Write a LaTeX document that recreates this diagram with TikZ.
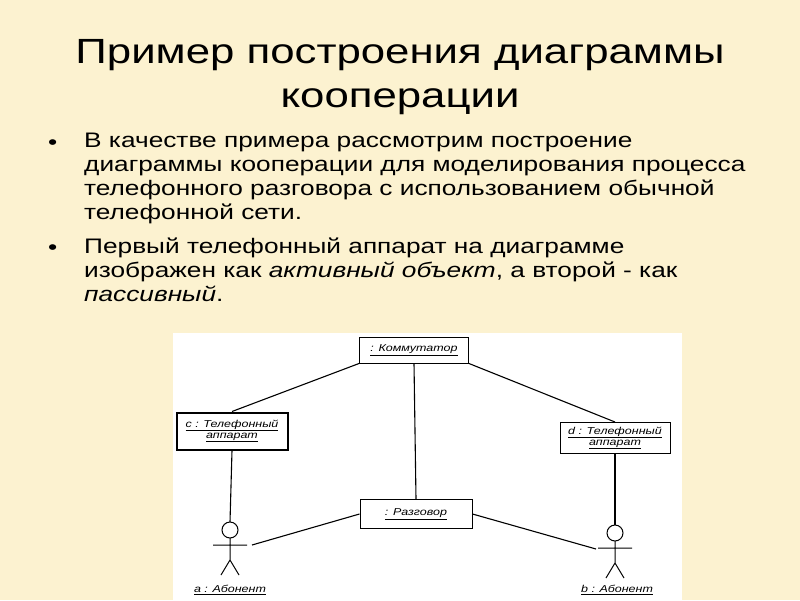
\documentclass[tikz,border=0pt]{standalone}
\usepackage{fontspec}
\setmainfont[FakeStretch=1.25]{Liberation Sans}
\begin{document}
\begin{tikzpicture}[x=1pt,y=-1pt,
 obj/.style={draw,line width=1pt,fill=white,inner sep=2pt,font=\fontsize{10}{11}\selectfont\itshape,align=center},
 lnk/.style={line width=1.1pt},
 body/.style={font=\fontsize{21}{24}\selectfont,anchor=west,inner sep=0pt}]
\fill[fill={rgb,255:red,252;green,242;blue,208}] (0,0) rectangle (800,600);
\useasboundingbox (0,0) rectangle (800,600);
\node[font=\fontsize{35}{44}\selectfont,align=center] (title) at (400,77) {Пример построения диаграммы\\кооперации};
\node[body] (b1) at (48,145) {•};
\node[body,anchor=north west,align=left] (t1) at (84,133) {В качестве примера рассмотрим построение\\диаграммы кооперации для моделирования процесса\\телефонного разговора с использованием обычной\\телефонной сети.};
\node[body] (b2) at (48,250) {•};
\node[body,anchor=north west,align=left] (t2) at (84,238) {Первый телефонный аппарат на диаграмме\\изображен как \textit{активный объект}, а второй - как\\\textit{пассивный}.};
\fill[white] (173,333) rectangle (682,600);
\node[obj,minimum width=109,minimum height=26] (k) at (414,350) {\underline{: Коммутатор}};
\node[obj,line width=2pt,minimum width=111,minimum height=37] (c) at (232,431) {\underline{c : Телефонный}\\\underline{аппарат}};
\node[obj,minimum width=110,minimum height=31] (d) at (615,438) {\underline{d : Телефонный}\\\underline{аппарат}};
\node[obj,minimum width=112,minimum height=29] (r) at (416,514) {\underline{: Разговор}};
% actors
\foreach \n/\x/\y in {a/230/530,b/615/533}{
 \draw[line width=1pt] (\x,\y) circle (8);
 \draw[line width=1pt] (\x-17,\y+15) -- (\x+17,\y+15) (\x,\y+8) -- (\x,\y+30) (\x-9,\y+45) -- (\x,\y+30) -- (\x+9,\y+45);
}
\node[font=\fontsize{10}{11}\selectfont\itshape] (al) at (230,590) {\underline{a : Абонент}};
\node[font=\fontsize{10}{11}\selectfont\itshape] (bl) at (617,590) {\underline{b : Абонент}};
\coordinate (ah) at (230,522);
\coordinate (bh) at (615,525);
\coordinate (aa) at (252,545);
\coordinate (ba) at (596,549);
\draw[lnk] (k.south west) -- (c.north);
\draw[lnk] (k.south east) -- (d.north);
\draw[lnk] (k.south) -- (r.north);
\draw[lnk] (c.south) -- (ah);
\draw[lnk] (d.south) -- (bh);
\draw[lnk] (r.west) -- (aa);
\draw[lnk] (r.east) -- (ba);
\end{tikzpicture}
\end{document}
